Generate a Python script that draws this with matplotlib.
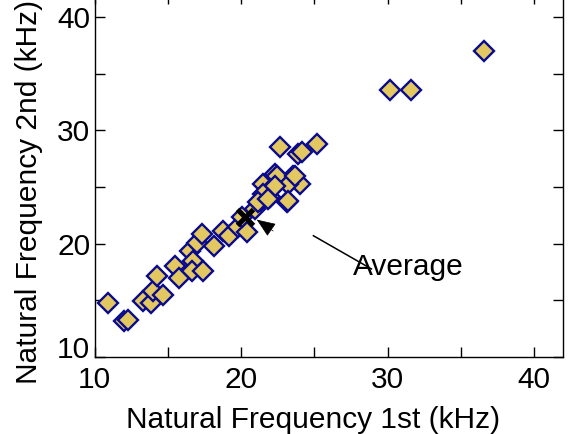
import matplotlib
matplotlib.use("Agg")
import matplotlib.pyplot as plt
from matplotlib.ticker import MultipleLocator
from matplotlib.transforms import ScaledTranslation

plt.rcParams['font.family'] = ['Liberation Sans', 'DejaVu Sans']

freq1 = [10.94, 12.03, 12.3, 13.29, 13.84, 14.0, 14.24, 14.7, 15.5, 15.79,
         16.52, 16.70, 16.63, 17.43, 16.97, 17.34, 18.16, 18.8, 19.2, 19.82,
         20.39, 20.05, 20.96, 21.3, 21.52, 22.2, 22.32, 21.98, 23.12, 23.53,
         24.03, 23.23, 22.66, 23.91, 24.14, 25.17, 30.17, 31.58, 36.59,
         22.43, 23.7, 22.3, 23.23, 21.52, 21.18, 21.84]
freq2 = [14.77, 13.14, 13.3, 14.97, 14.77, 15.85, 17.15, 15.44, 18.06, 16.97,
         19.38, 18.44, 17.62, 17.62, 20.03, 20.85, 19.82, 21.15, 20.7, 21.44,
         21.0, 22.32, 23.06, 23.8, 25.27, 24.97, 26.15, 24.09, 23.7, 26.0,
         25.27, 25.27, 28.5, 27.92, 28.06, 28.8, 33.56, 33.56, 36.97,
         26.0, 26.0, 25.1, 23.8, 24.4, 23.65, 23.97]
avg1 = 20.27
avg2 = 22.32

fig = plt.figure(figsize=(5.69, 4.34), dpi=100)
ax = fig.add_axes([0.1661, 0.1774, 0.824, 0.8357])

ax.plot(freq1, freq2, linestyle='none', marker='D', markersize=10.3,
        markerfacecolor='#E3C862', markeredgecolor='#0A0A8C', markeredgewidth=1.7)
ax.plot([avg1], [avg2], linestyle='none', marker='x', markersize=12,
        markeredgewidth=3.6, color='black')

# arrow head
ax.annotate('', xy=(21.07, 22.12), xytext=(11.9, -8.2), textcoords='offset points',
            arrowprops=dict(arrowstyle='-|>,head_length=1.2,head_width=0.48',
                            mutation_scale=10, color='black', lw=0.5,
                            shrinkA=0, shrinkB=0))
# arrow tail line
ax.plot([24.94, 28.9], [20.7, 17.77], color='black', lw=1.1)
ax.text(27.65, 17.26, 'Average', fontsize=21.5, ha='left', va='baseline')

ax.set_xlim(10, 42)
ax.set_ylim(10, 42)
ax.xaxis.set_major_locator(MultipleLocator(10))
ax.xaxis.set_minor_locator(MultipleLocator(5))
ax.yaxis.set_major_locator(MultipleLocator(10))
ax.yaxis.set_minor_locator(MultipleLocator(5))
ax.tick_params(which='both', direction='in', top=True, right=True,
               length=7, width=1.0, labelsize=21.5)
ax.tick_params(axis='x', pad=6.5)
ax.tick_params(axis='y', pad=3)
for s in ax.spines.values():
    s.set_linewidth(1.0)

ax.set_xlabel('Natural Frequency 1st (kHz)', fontsize=21.5, labelpad=6)
ax.set_ylabel('Natural Frequency 2nd (kHz)', fontsize=21.5, labelpad=5)
ax.xaxis.set_label_coords(0.467, -0.135)
ax.yaxis.set_label_coords(-0.11, 0.455)

fig.canvas.draw()
# lowest y tick label sits slightly above its tick in the reference
lbls = ax.get_yticklabels()
for t in lbls:
    if t.get_text() == '10':
        t.set_transform(t.get_transform() + ScaledTranslation(0, 10 / 100, fig.dpi_scale_trans))

fig.savefig('out.png', dpi=100)
